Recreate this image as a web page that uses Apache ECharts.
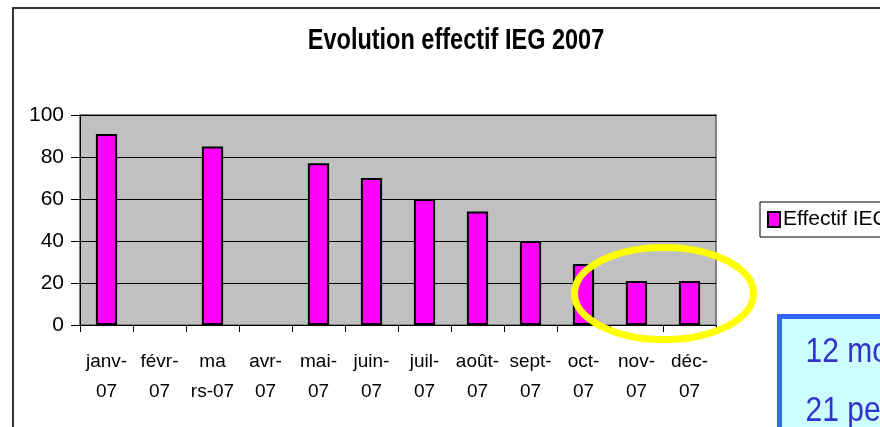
<!DOCTYPE html>
<html>
<head>
<meta charset="utf-8">
<script src="https://cdn.jsdelivr.net/npm/echarts@6/dist/echarts.min.js"></script>
<style>
  html, body { margin: 0; padding: 0; background: #fff; }
  #chart { width: 880px; height: 427px; }
</style>
</head>
<body>
<div id="chart"></div>
<script>
// mois (libellés sur deux lignes comme dans l'original)
var mois = ['janv-\n07', 'févr-\n07', 'ma\nrs-07', 'avr-\n07', 'mai-\n07', 'juin-\n07',
            'juil-\n07', 'août-\n07', 'sept-\n07', 'oct-\n07', 'nov-\n07', 'déc-\n07'];
// effectif IEG (févr et avr sans valeur)
var effectif = [91, null, 85, null, 77, 70, 60, 54, 40, 29, 21, 21];
var yTicks = [0, 20, 40, 60, 80, 100];
var nomSerie = 'Effectif IEG';
var titre = 'Evolution effectif IEG 2007';
var encadre = ['12 mois', '21 personnes'];

var font = "'Liberation Sans', Arial, sans-serif";

var myChart = echarts.init(document.getElementById('chart'));
option = {
    animation: false,
    textStyle: { fontFamily: font },
    legend: {
        left: 760,
        top: 202,
        padding: [7, 8, 7, 7],
        backgroundColor: '#fff',
        borderColor: '#000',
        borderWidth: 1,
        itemWidth: 12,
        itemHeight: 15,
        itemGap: 4,
        icon: 'rect',
        textStyle: { fontFamily: font, fontSize: 21, color: '#000', padding: [0, 0, 0, -2] },
        data: [nomSerie]
    },
    grid: {
        left: 80,
        right: 164,
        top: 115,
        bottom: 102,
        show: true,
        backgroundColor: '#c0c0c0',
        borderColor: '#808080',
        borderWidth: 2
    },
    xAxis: {
        type: 'category',
        data: mois,
        axisLine: { lineStyle: { color: '#000', width: 1 } },
        axisTick: { show: true, length: 7, lineStyle: { color: '#000' } },
        axisLabel: {
            color: '#000',
            fontFamily: font,
            fontSize: 19,
            lineHeight: 30,
            margin: 22,
            interval: 0
        }
    },
    yAxis: {
        type: 'value',
        min: yTicks[0],
        max: yTicks[yTicks.length - 1],
        interval: 20,
        axisLine: { show: true, lineStyle: { color: '#000', width: 1 } },
        axisTick: { show: true, length: 9, lineStyle: { color: '#000' } },
        axisLabel: { color: '#000', fontFamily: font, fontSize: 21, margin: 16 },
        splitLine: { lineStyle: { color: '#000', width: 1 } }
    },
    series: [{
        name: nomSerie,
        type: 'bar',
        data: effectif,
        barWidth: '40%',
        itemStyle: { color: '#ff00ff', borderColor: '#000', borderWidth: 2 }
    }],
    graphic: [
        {
            // titre, étiré verticalement comme dans le graphique Excel
            type: 'text',
            x: 456, y: 41,
            scaleY: 1.25,
            style: {
                text: titre, fill: '#000', font: 'bold 23.5px ' + font,
                textAlign: 'center', textVerticalAlign: 'middle'
            },
            z: 100
        },
        {
            type: 'rect',
            shape: { x: 13, y: 8, width: 900, height: 450 },
            style: { fill: 'none', stroke: '#333', lineWidth: 2 },
            z: 100
        },
        {
            type: 'ellipse',
            shape: { cx: 664, cy: 293.5, rx: 89.5, ry: 46 },
            style: { fill: 'none', stroke: '#ffff00', lineWidth: 7 },
            z: 100
        },
        {
            type: 'group',
            left: 777,
            top: 314,
            z: 100,
            children: [
                {
                    type: 'rect',
                    shape: { x: 0, y: 0, width: 220, height: 140 },
                    style: { fill: '#ccffff', stroke: '#3366ff', lineWidth: 5 }
                },
                {
                    type: 'text',
                    x: 26, y: 36, scaleY: 1.15,
                    style: { text: encadre[0], fill: '#3333cc', font: '30px ' + font, textVerticalAlign: 'middle' }
                },
                {
                    type: 'text',
                    x: 26, y: 95, scaleY: 1.15,
                    style: { text: encadre[1], fill: '#3333cc', font: '30px ' + font, textVerticalAlign: 'middle' }
                }
            ]
        }
    ]
};
if (option && typeof option === "object") {
    myChart.setOption(option, true);
}
</script>
</body>
</html>
